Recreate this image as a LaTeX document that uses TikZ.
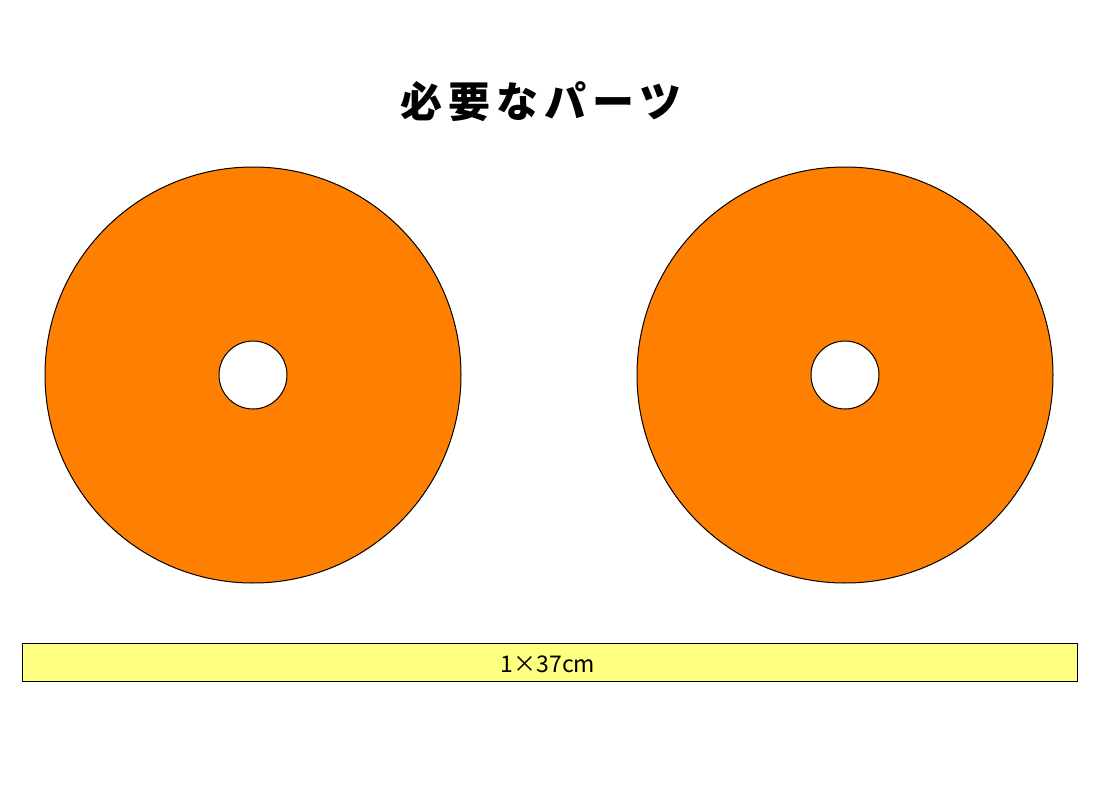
\documentclass[tikz,border=0pt]{standalone}
\usepackage{fontspec}
\newfontfamily\cjk{Noto Sans CJK JP}
\newfontfamily\cjktitle[LetterSpace=14]{Noto Sans CJK JP}
\usepackage{tikz}
\usetikzlibrary{positioning}
\usepackage{xcolor}
\definecolor{ringorange}{RGB}{255,128,0}
\definecolor{baryellow}{RGB}{255,255,128}
\tikzstyle{ring} = [fill=ringorange, draw=black, line width=1pt, even odd rule]
\tikzstyle{bar} = [fill=baryellow, draw=black, line width=0.8pt]

\begin{document}
\begin{tikzpicture}[x=1pt, y=-1pt]
    \useasboundingbox (0,0) rectangle (1104,808);

    % Title
    \node[font=\cjktitle\bfseries\fontsize{42}{46}\selectfont] (title) at (541, 102) {必要なパーツ};

    % Rings
    \draw[ring] (253, 375) circle (208) (253, 375) circle (34);
    \draw[ring] (845, 375) circle (208) (845, 375) circle (34);

    % Strip
    \draw[bar] (22, 643) rectangle (1077, 681);
    \node[font=\cjk\fontsize{23}{25}\selectfont] (strip) at (548, 664) {1×37cm};
\end{tikzpicture}
\end{document}
